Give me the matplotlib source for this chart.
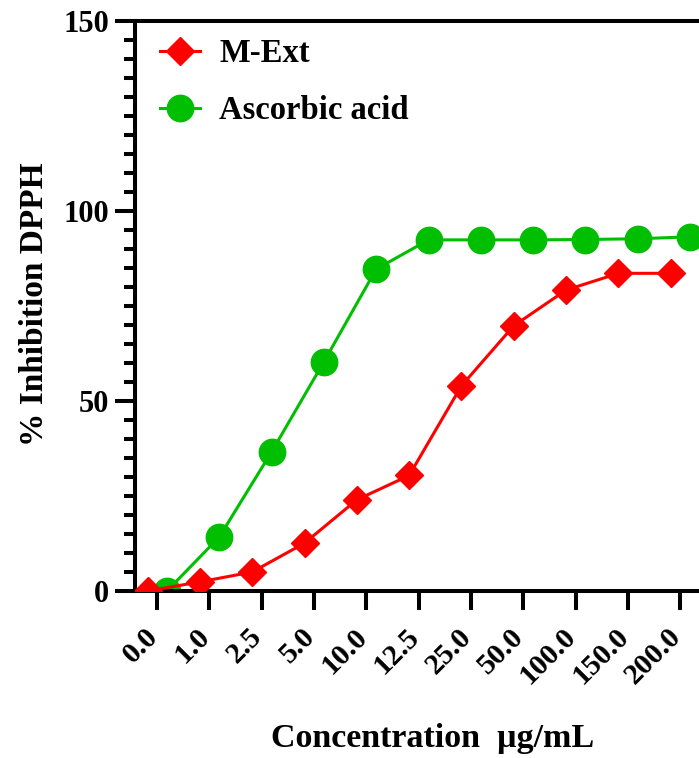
import matplotlib.pyplot as plt
import matplotlib.transforms as mtransforms
import numpy as np

plt.rcParams['font.family'] = ['Liberation Serif', 'DejaVu Serif']
plt.rcParams['font.weight'] = 'bold'

conc = ["0.0", "1.0", "2.5", "5.0", "10.0", "12.5", "25.0", "50.0", "100.0", "150.0", "200.0"]
m_ext = [0.0, 2.4, 5.0, 12.6, 24.0, 30.4, 54.0, 69.8, 79.2, 83.6, 83.6]
ascorbic = [0.0, 14.2, 36.6, 60.3, 84.7, 92.4, 92.4, 92.4, 92.5, 92.7, 93.2]

red = "#FF0000"
green = "#00BF00"

x = np.arange(len(conc))

fig = plt.figure(figsize=(6.99, 7.58), dpi=100)
ax = fig.add_axes([135/699, 167/758, 1 - 135/699, 570/758])

# the two series sit either side of each category tick
ax.plot(x - 0.18, m_ext, color=red, lw=2.2, marker="D", ms=14, label="M-Ext", zorder=3)
ax.plot(x + 0.19, ascorbic, color=green, lw=2.2, marker="o", ms=19, label="Ascorbic acid", zorder=2)

ax.set_xlim(-0.42, 10.36)
ax.set_ylim(0, 150)
ax.set_yticks([0, 50, 100, 150])
ax.set_yticks(np.arange(0, 151, 5), minor=True)
ax.set_xticks(x)
ax.set_xticklabels(conc, rotation=45, ha="right", va="top", rotation_mode="anchor")

for s in ["left", "bottom", "top"]:
    ax.spines[s].set_linewidth(2.9)
ax.spines["right"].set_visible(False)

ax.tick_params(axis="y", which="major", length=14.5, width=2.9, labelsize=22, pad=4)
ax.tick_params(axis="y", which="minor", length=8, width=2.9)
ax.tick_params(axis="x", which="major", length=13.5, width=2.9, labelsize=21.5, pad=9.5)

shift = mtransforms.ScaledTranslation(-13/100, 0, fig.dpi_scale_trans)
for lab in ax.get_xticklabels():
    lab.set_transform(lab.get_transform() + shift)

ax.set_ylabel("% Inhibition DPPH", fontsize=24, fontweight="bold")
ax.yaxis.set_label_coords(-0.15, 0.503)
ax.set_xlabel("Concentration  µg/mL", fontsize=24.5, fontweight="bold")
ax.xaxis.set_label_coords(0.527, -0.232)

ax.legend(loc="upper left", bbox_to_anchor=(0.045, 0.97), frameon=False,
          fontsize=23.5, handlelength=1.2, handletextpad=0.6, labelspacing=0.8,
          borderpad=0, borderaxespad=0)

fig.savefig("out.png", dpi=100)
